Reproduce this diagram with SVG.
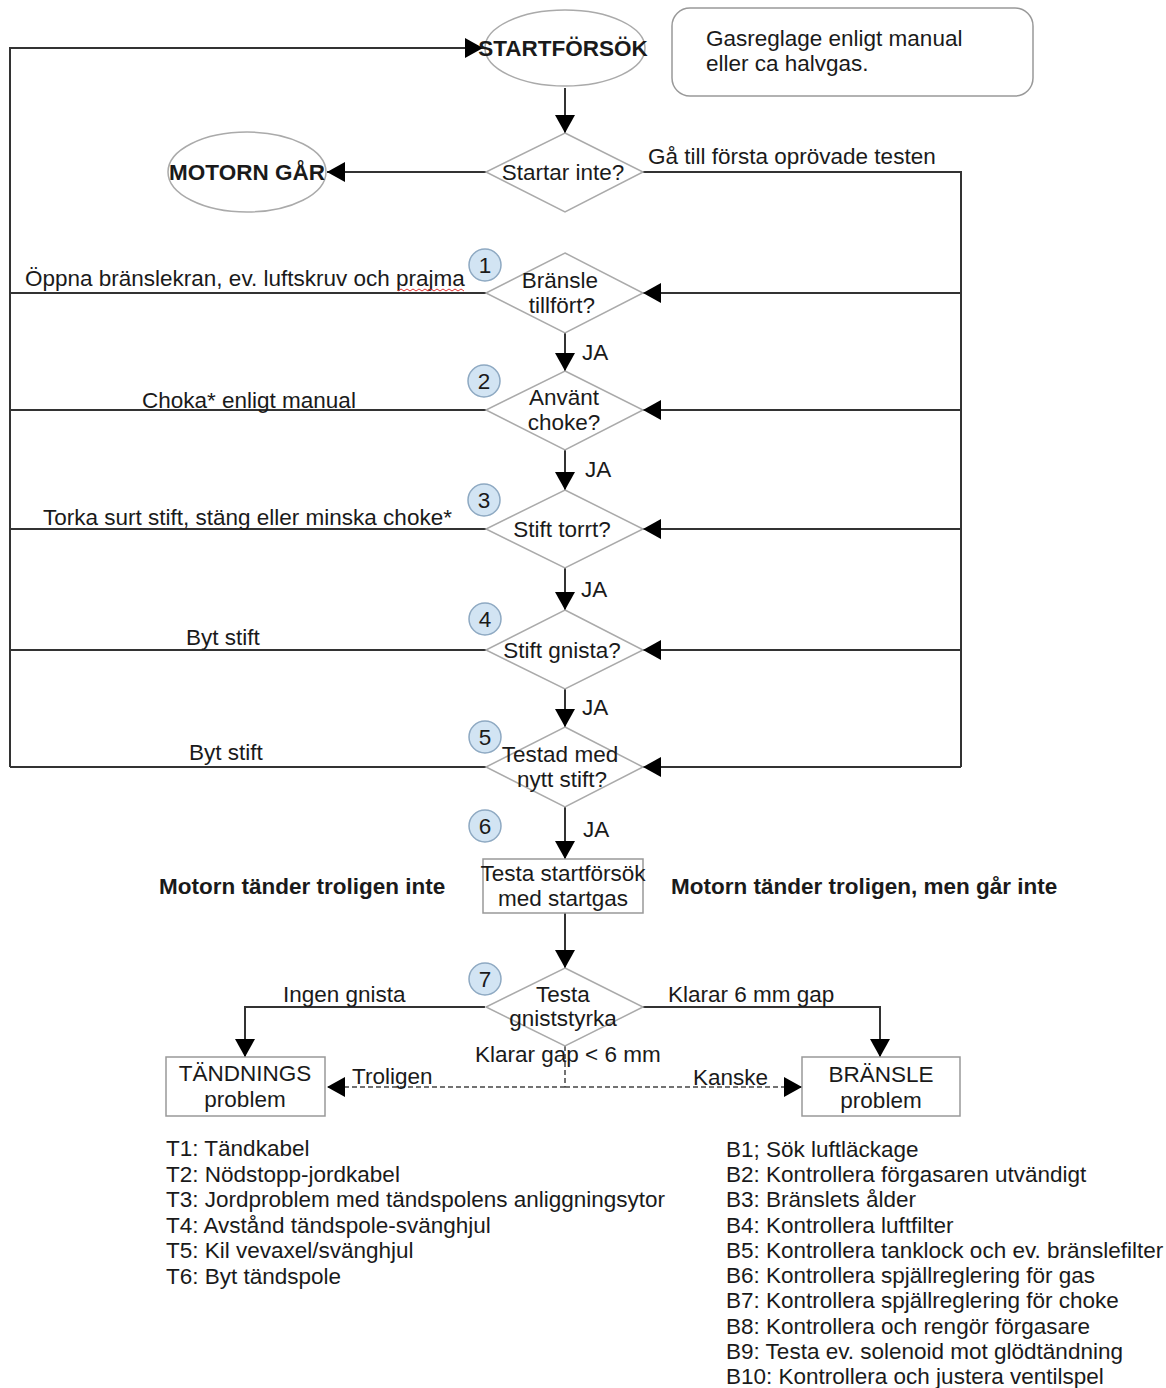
<svg xmlns="http://www.w3.org/2000/svg" width="1166" height="1388" viewBox="0 0 1166 1388">
<defs>
<marker id="ah" markerUnits="userSpaceOnUse" markerWidth="18" markerHeight="20" refX="18" refY="10" orient="auto">
<path d="M0,0 L18,10 L0,20 z" fill="#000"/>
</marker>
<style>
text{font-family:"Liberation Sans",Arial,sans-serif;font-size:22.5px;fill:#1a1a1a}
.c{text-anchor:middle}
.b{font-weight:bold}
.shape{fill:#fff;stroke:#aaa;stroke-width:1.5}
.box{fill:#fff;stroke:#999;stroke-width:1.5}
.num{fill:#d2e4f3;stroke:#8ea9c2;stroke-width:1.5}
.ln{fill:none;stroke:#333;stroke-width:2}
.dash{fill:none;stroke:#444;stroke-width:1.5;stroke-dasharray:5 3}
</style>
</defs>
<rect width="1166" height="1388" fill="#fff"/>

<g id="connectors">
<path class="ln" d="M10,767 L10,48 L483,48" marker-end="url(#ah)"/>
<path class="ln" d="M565,88 L565,133" marker-end="url(#ah)"/>
<path class="ln" d="M486,172 L327,172" marker-end="url(#ah)"/>
<path class="ln" d="M643,172 L961,172 L961,767"/>
<path class="ln" d="M961,293 L643,293" marker-end="url(#ah)"/>
<path class="ln" d="M961,410 L643,410" marker-end="url(#ah)"/>
<path class="ln" d="M961,529 L643,529" marker-end="url(#ah)"/>
<path class="ln" d="M961,650 L643,650" marker-end="url(#ah)"/>
<path class="ln" d="M961,767 L643,767" marker-end="url(#ah)"/>
<path class="ln" d="M486,293 L10,293"/>
<path class="ln" d="M486,410 L10,410"/>
<path class="ln" d="M486,529 L10,529"/>
<path class="ln" d="M486,650 L10,650"/>
<path class="ln" d="M486,767 L10,767"/>
<path class="ln" d="M565,333 L565,371" marker-end="url(#ah)"/>
<path class="ln" d="M565,450 L565,490" marker-end="url(#ah)"/>
<path class="ln" d="M565,568 L565,610" marker-end="url(#ah)"/>
<path class="ln" d="M565,689 L565,727" marker-end="url(#ah)"/>
<path class="ln" d="M565,807 L565,859" marker-end="url(#ah)"/>
<path class="ln" d="M565,913 L565,968" marker-end="url(#ah)"/>
<path class="ln" d="M485,1007 L245,1007 L245,1057" marker-end="url(#ah)"/>
<path class="ln" d="M643,1007 L880,1007 L880,1057" marker-end="url(#ah)"/>
<path class="dash" d="M565,1046 L565,1087"/>
<path class="dash" d="M565,1087 L327,1087" marker-end="url(#ah)"/>
<path class="dash" d="M565,1087 L802,1087" marker-end="url(#ah)"/>
<text x="648" y="164">Gå till första oprövade testen</text>
<text x="25" y="286">Öppna bränslekran, ev. luftskruv och prajma</text>
<path d="M398,291 l3,-2 l3,2 l3,-2 l3,2 l3,-2 l3,2 l3,-2 l3,2 l3,-2 l3,2 l3,-2 l3,2 l3,-2 l3,2 l3,-2 l3,2 l3,-2 l3,2 l3,-2 l3,2 l3,-2 l3,2" fill="none" stroke="#e03030" stroke-width="1"/>
<text x="142" y="408">Choka* enligt manual</text>
<text x="43" y="525">Torka surt stift, stäng eller minska choke*</text>
<text x="186" y="645">Byt stift</text>
<text x="189" y="760">Byt stift</text>
<text x="582" y="360">JA</text>
<text x="585" y="477">JA</text>
<text x="581" y="597">JA</text>
<text x="582" y="715">JA</text>
<text x="583" y="837">JA</text>
<text x="283" y="1002">Ingen gnista</text>
<text x="668" y="1002">Klarar 6 mm gap</text>
<text x="475" y="1062">Klarar gap &lt; 6 mm</text>
<text x="352" y="1084">Troligen</text>
<text x="693" y="1085">Kanske</text>
</g>

<g id="startforsok">
<ellipse class="shape" cx="565" cy="48" rx="80" ry="38"/>
<text class="b" x="563" y="56" text-anchor="middle">STARTFÖRSÖK</text>
</g>
<g id="note">
<rect class="box" x="672" y="8" width="361" height="88" rx="18"/>
<text x="706" y="46">Gasreglage enligt manual</text>
<text x="706" y="71">eller ca halvgas.</text>
</g>
<g id="startar-inte">
<polygon class="shape" points="565,133 643,172 565,212 486,172"/>
<text class="c" x="563" y="180">Startar inte?</text>
</g>
<g id="motorn-gar">
<ellipse class="shape" cx="247" cy="172" rx="79" ry="40"/>
<text class="b c" x="247" y="180">MOTORN GÅR</text>
</g>
<g id="d1">
<polygon class="shape" points="565,253 643,293 565,333 486,293"/>
<text class="c" x="560" y="288">Bränsle</text>
<text class="c" x="562" y="313">tillfört?</text>
<circle class="num" cx="485" cy="265" r="16"/><text class="c" x="485" y="273">1</text>
</g>
<g id="d2">
<polygon class="shape" points="565,371 643,410 565,450 486,410"/>
<text class="c" x="564" y="405">Använt</text>
<text class="c" x="564" y="430">choke?</text>
<circle class="num" cx="484" cy="381" r="16"/><text class="c" x="484" y="389">2</text>
</g>
<g id="d3">
<polygon class="shape" points="565,490 643,529 565,568 486,529"/>
<text class="c" x="562" y="537">Stift torrt?</text>
<circle class="num" cx="484" cy="500" r="16"/><text class="c" x="484" y="508">3</text>
</g>
<g id="d4">
<polygon class="shape" points="565,610 643,650 565,689 486,650"/>
<text class="c" x="562" y="658">Stift gnista?</text>
<circle class="num" cx="485" cy="619" r="16"/><text class="c" x="485" y="627">4</text>
</g>
<g id="d5">
<polygon class="shape" points="565,727 643,767 565,807 486,767"/>
<text class="c" x="560" y="762">Testad med</text>
<text class="c" x="562" y="787">nytt stift?</text>
<circle class="num" cx="485" cy="737" r="16"/><text class="c" x="485" y="745">5</text>
</g>
<g id="n6">
<circle class="num" cx="485" cy="826" r="16"/><text class="c" x="485" y="834">6</text>
</g>
<g id="testa-startforsok">
<rect class="box" x="483" y="859" width="160" height="54"/>
<text class="c" x="563" y="881">Testa startförsök</text>
<text class="c" x="563" y="906">med startgas</text>
</g>
<text class="b" x="159" y="894">Motorn tänder troligen inte</text>
<text class="b" x="671" y="894">Motorn tänder troligen, men går inte</text>
<g id="d7">
<polygon class="shape" points="565,968 643,1007 565,1046 486,1007"/>
<text class="c" x="563" y="1002">Testa</text>
<text class="c" x="563" y="1026">gniststyrka</text>
<circle class="num" cx="485" cy="979" r="16"/><text class="c" x="485" y="987">7</text>
</g>
<g id="tandnings">
<rect class="box" x="166" y="1057" width="159" height="59"/>
<text class="c" x="245" y="1081">TÄNDNINGS</text>
<text class="c" x="245" y="1107">problem</text>
</g>
<g id="bransle">
<rect class="box" x="802" y="1057" width="158" height="59"/>
<text class="c" x="881" y="1082">BRÄNSLE</text>
<text class="c" x="881" y="1108">problem</text>
</g>
<g id="t-list">
<text x="166" y="1156">T1: Tändkabel</text>
<text x="166" y="1182">T2: Nödstopp-jordkabel</text>
<text x="166" y="1207">T3: Jordproblem med tändspolens anliggningsytor</text>
<text x="166" y="1233">T4: Avstånd tändspole-svänghjul</text>
<text x="166" y="1258">T5: Kil vevaxel/svänghjul</text>
<text x="166" y="1284">T6: Byt tändspole</text>
</g>
<g id="b-list">
<text x="726" y="1157">B1; Sök luftläckage</text>
<text x="726" y="1182">B2: Kontrollera förgasaren utvändigt</text>
<text x="726" y="1207">B3: Bränslets ålder</text>
<text x="726" y="1233">B4: Kontrollera luftfilter</text>
<text x="726" y="1258">B5: Kontrollera tanklock och ev. bränslefilter</text>
<text x="726" y="1283">B6: Kontrollera spjällreglering för gas</text>
<text x="726" y="1308">B7: Kontrollera spjällreglering för choke</text>
<text x="726" y="1334">B8: Kontrollera och rengör förgasare</text>
<text x="726" y="1359">B9: Testa ev. solenoid mot glödtändning</text>
<text x="726" y="1384">B10: Kontrollera och justera ventilspel</text>
</g>
</svg>
